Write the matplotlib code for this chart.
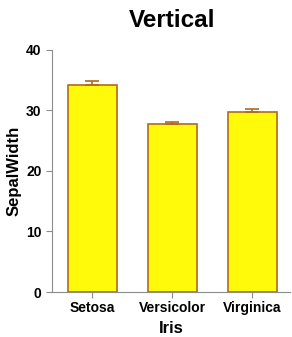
import matplotlib
matplotlib.use("Agg")
import matplotlib.pyplot as plt

plt.rcParams["font.family"] = ["Liberation Sans", "DejaVu Sans"]

species = ["Setosa", "Versicolor", "Virginica"]
sepal_width = [34.28, 27.70, 29.74]
sepal_se = [0.54, 0.44, 0.46]
y_ticks = [0, 10, 20, 30, 40]

fig = plt.figure(figsize=(2.92, 3.37), dpi=100)
ax = fig.add_axes([0.178, 0.1335, 0.815, 0.7185])

x = range(len(species))
ax.bar(x, sepal_width, width=0.61, color="#FFFA0A", edgecolor="#B06A1E", linewidth=1.2, zorder=2)
ax.errorbar(x, sepal_width, yerr=[[0] * len(sepal_se), sepal_se], fmt="none",
            ecolor="#B06A1E", elinewidth=1.2, capsize=5, capthick=1.2, zorder=3)

ax.set_ylim(0, 40)
ax.set_xlim(-0.503, 2.47)
ax.set_yticks(y_ticks)
ax.set_xticks(list(x))
ax.set_xticklabels(species)
for lab in ax.get_xticklabels() + ax.get_yticklabels():
    lab.set_fontweight("bold")
    lab.set_fontsize(10)

for side in ("top", "right"):
    ax.spines[side].set_visible(False)
for side in ("left", "bottom"):
    ax.spines[side].set_color("#8c8c8c")
    ax.spines[side].set_linewidth(0.8)
ax.tick_params(colors="#8c8c8c", labelcolor="black", length=4, width=0.8)
ax.tick_params(axis="x", pad=2.5)

ax.set_xlabel("Iris", fontsize=12, fontweight="bold", labelpad=4)
ax.set_ylabel("SepalWidth", fontsize=12, fontweight="bold", labelpad=3)
fig.text(0.59, 0.94, "Vertical", ha="center", va="center", fontsize=17.5, fontweight="bold")

fig.savefig("out.png", dpi=100)
